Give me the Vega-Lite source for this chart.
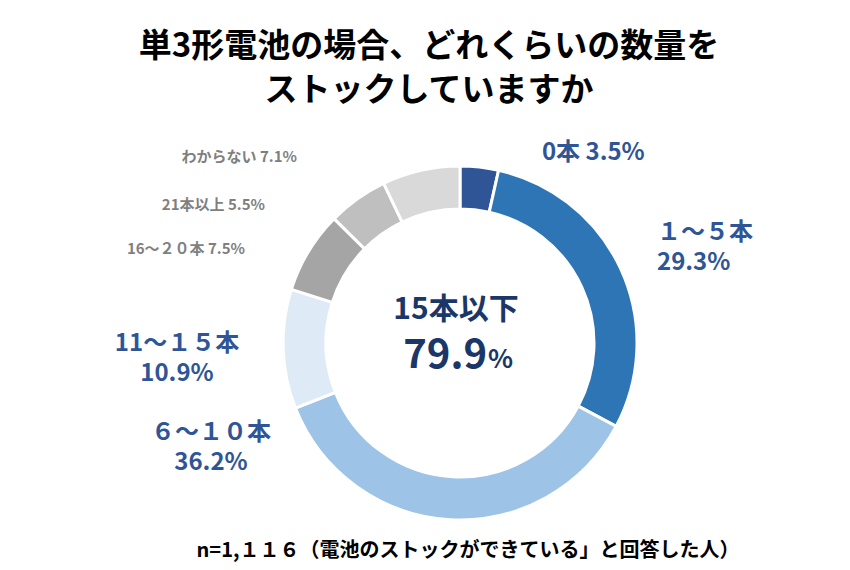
{
  "$schema": "https://vega.github.io/schema/vega-lite/v6.json",
  "autosize": {"type": "none"},
  "width": 780,
  "height": 454,
  "padding": {"left": 70, "top": 116, "right": 0, "bottom": 0},
  "background": "#ffffff",
  "config": {"view": {"stroke": null}, "font": "Noto Sans CJK JP"},
  "title": {
    "text": ["単3形電池の場合、どれくらいの数量を", "ストックしていますか"],
    "font": "Noto Sans CJK JP",
    "fontSize": 33,
    "fontWeight": "bold",
    "color": "#000000",
    "anchor": "middle",
    "frame": "group",
    "dx": -31,
    "offset": 8,
    "lineHeight": 44
  },
  "data": {
    "values": [
      {"category": "0本", "value": 3.5, "label": "0本 3.5%"},
      {"category": "1～5本", "value": 29.3, "label": "１～５本\n29.3%"},
      {"category": "6～10本", "value": 36.2, "label": "６～１０本\n36.2%"},
      {"category": "11～15本", "value": 10.9, "label": "11～１５本\n10.9%"},
      {"category": "16～20本", "value": 7.5, "label": "16～２０本 7.5%"},
      {"category": "21本以上", "value": 5.5, "label": "21本以上 5.5%"},
      {"category": "わからない", "value": 7.1, "label": "わからない 7.1%"}
    ]
  },
  "transform": [
    {"window": [{"op": "row_number", "as": "idx"}]},
    {"stack": "value", "groupby": [], "sort": [{"field": "idx", "order": "ascending"}], "as": ["s0", "s1"]}
  ],
  "layer": [
    {
      "mark": {"type": "arc", "outerRadius": 177, "innerRadius": 134, "stroke": "#ffffff", "strokeWidth": 3},
      "encoding": {
        "theta": {"field": "s0", "type": "quantitative", "stack": null, "scale": {"domain": [0, 100]}},
        "theta2": {"field": "s1"},
        "color": {
          "field": "category", "type": "nominal", "legend": null,
          "scale": {
            "domain": ["0本", "1～5本", "6～10本", "11～15本", "16～20本", "21本以上", "わからない"],
            "range": ["#2F5597", "#2E75B6", "#9DC3E6", "#DEEBF7", "#A5A5A5", "#BFBFBF", "#D9D9D9"]
          }
        }
      }
    },
    {
      "transform": [{"filter": {"field": "category", "equal": "0本"}}],
      "mark": {"type": "text", "radius": 207, "thetaOffset": 0.4067, "align": "left", "baseline": "middle", "fontSize": 24, "fontWeight": "bold", "color": "#2F5597"},
      "encoding": {
        "theta": {"field": "s0", "type": "quantitative", "stack": null},
        "text": {"field": "label", "type": "nominal"}
      }
    },
    {
      "transform": [{"filter": {"field": "category", "equal": "1～5本"}}],
      "mark": {"type": "text", "radius": 225.6, "thetaOffset": 0.8416, "align": "left", "baseline": "middle", "fontSize": 24, "fontWeight": "bold", "lineBreak": "\n", "lineHeight": 30, "color": "#2F5597"},
      "encoding": {
        "theta": {"field": "s0", "type": "quantitative", "stack": null},
        "text": {"field": "label", "type": "nominal"}
      }
    },
    {
      "transform": [{"filter": {"field": "category", "equal": "6～10本"}}],
      "mark": {"type": "text", "radius": 264.8, "thetaOffset": 2.3047, "align": "center", "baseline": "middle", "fontSize": 24, "fontWeight": "bold", "lineBreak": "\n", "lineHeight": 30, "color": "#2F5597"},
      "encoding": {
        "theta": {"field": "s0", "type": "quantitative", "stack": null},
        "text": {"field": "label", "type": "nominal"}
      }
    },
    {
      "transform": [{"filter": {"field": "category", "equal": "11～15本"}}],
      "mark": {"type": "text", "radius": 283, "thetaOffset": 0.3735, "align": "center", "baseline": "middle", "fontSize": 24, "fontWeight": "bold", "lineBreak": "\n", "lineHeight": 30, "color": "#2F5597"},
      "encoding": {
        "theta": {"field": "s0", "type": "quantitative", "stack": null},
        "text": {"field": "label", "type": "nominal"}
      }
    },
    {
      "transform": [{"filter": {"field": "category", "equal": "16～20本"}}],
      "mark": {"type": "text", "radius": 234.6, "thetaOffset": 0.1044, "align": "right", "baseline": "middle", "fontSize": 15, "fontWeight": "bold", "color": "#7F7F7F"},
      "encoding": {
        "theta": {"field": "s0", "type": "quantitative", "stack": null},
        "text": {"field": "label", "type": "nominal"}
      }
    },
    {
      "transform": [{"filter": {"field": "category", "equal": "21本以上"}}],
      "mark": {"type": "text", "radius": 238.9, "thetaOffset": -0.1632, "align": "right", "baseline": "middle", "fontSize": 15, "fontWeight": "bold", "color": "#7F7F7F"},
      "encoding": {
        "theta": {"field": "s0", "type": "quantitative", "stack": null},
        "text": {"field": "label", "type": "nominal"}
      }
    },
    {
      "transform": [{"filter": {"field": "category", "equal": "わからない"}}],
      "mark": {"type": "text", "radius": 247.3, "thetaOffset": -0.2735, "align": "right", "baseline": "middle", "fontSize": 15, "fontWeight": "bold", "color": "#7F7F7F"},
      "encoding": {
        "theta": {"field": "s0", "type": "quantitative", "stack": null},
        "text": {"field": "label", "type": "nominal"}
      }
    },
    {
      "transform": [
        {"filter": {"field": "category", "oneOf": ["0本", "1～5本", "6～10本", "11～15本"]}},
        {"aggregate": [{"op": "sum", "field": "value", "as": "total"}]}
      ],
      "layer": [
        {
          "mark": {"type": "text", "align": "center", "baseline": "middle", "dy": -33, "dx": -4, "fontSize": 30, "fontWeight": "bold", "color": "#1B3668"},
          "encoding": {"text": {"value": "15本以下"}}
        },
        {
          "mark": {"type": "text", "align": "right", "baseline": "alphabetic", "dx": 27, "dy": 25, "fontSize": 40, "fontWeight": "bold", "color": "#1B3668"},
          "encoding": {"text": {"field": "total", "type": "quantitative", "format": ".1f"}}
        },
        {
          "mark": {"type": "text", "align": "left", "baseline": "alphabetic", "dx": 28, "dy": 25, "fontSize": 26, "fontWeight": "bold", "color": "#1B3668"},
          "encoding": {"text": {"value": "%"}}
        },
        {
          "mark": {"type": "text", "align": "center", "baseline": "middle", "dx": 8, "dy": 208, "fontSize": 20, "fontWeight": "bold", "color": "#000000"},
          "encoding": {"text": {"value": "n=1,１１６（電池のストックができている」と回答した人）"}}
        }
      ]
    }
  ]
}
